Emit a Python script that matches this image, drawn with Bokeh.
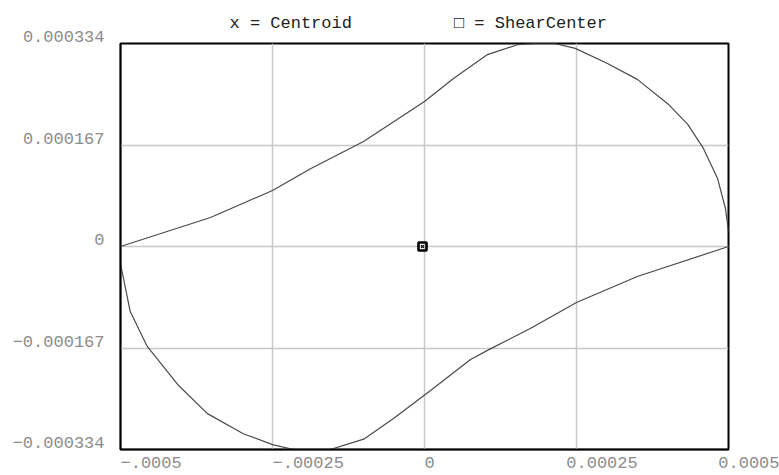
from bokeh.plotting import figure
from bokeh.models import Range1d, FixedTicker, Title
from bokeh.embed import file_html
from bokeh.resources import INLINE

# Section outline traced as two open branches (x, y in model units)
upper_x = [-0.0005, -0.000352, -0.00025, -0.0001875, -0.0001003, 0.0, 0.0000477,
           0.0001036, 0.000153, 0.000181, 0.000214, 0.000248, 0.000301, 0.00035,
           0.0004, 0.000433, 0.000459, 0.000482, 0.000495, 0.0005]
upper_y = [0.0, 0.0000477, 0.0000921, 0.000128, 0.0001727, 0.0002385, 0.0002764,
           0.0003158, 0.000332, 0.000334, 0.000334, 0.000326, 0.000301, 0.000275,
           0.000235, 0.000201, 0.000161, 0.000112, 0.0000625, 0.0000247]

lower_x = [-0.0005, -0.000484, -0.000456, -0.000406, -0.000357, -0.000298, -0.00025,
           -0.000215, -0.000155, -0.0001, -0.000051, 0.00001, 0.0000757, 0.000109,
           0.000174, 0.00025, 0.00035, 0.0005]
lower_y = [-0.000028, -0.000107, -0.0001645, -0.000227, -0.000275, -0.000308, -0.000326,
           -0.000334, -0.000334, -0.000317, -0.000283, -0.000237, -0.000186, -0.000168,
           -0.000135, -0.0000921, -0.0000494, 0.0]

centroid = (-0.0000033, 0.0)
shear_center = (-0.0000033, 0.0)

x_ticks = [-0.0005, -0.00025, 0.0, 0.00025, 0.0005]
x_tick_labels = ["\u2212.0005", "\u2212.00025", "0", "0.00025", "0.0005"]
y_ticks = [0.000334, 0.000167, 0.0, -0.000167, -0.000334]
y_tick_labels = ["0.000334", "0.000167", "0", "\u22120.000167", "\u22120.000334"]

FONT = "Liberation Mono"
LABEL_COLOR = "#8c8c8c"
NBSP = "\u00a0"

p = figure(width=779, height=475, output_backend="svg", toolbar_location=None,
           x_range=Range1d(-0.0005, 0.0005), y_range=Range1d(-0.000334, 0.000334),
           min_border_left=120, min_border_right=51, min_border_top=42,
           min_border_bottom=26)
p.background_fill_color = "white"
p.border_fill_color = "white"
p.outline_line_color = "black"
p.outline_line_width = 2


def style_axis(ax):
    ax.major_tick_line_color = None
    ax.minor_tick_line_color = None
    ax.axis_line_color = "black"
    ax.axis_line_width = 1.5
    ax.major_label_text_font = FONT
    ax.major_label_text_font_size = "17px"
    ax.major_label_text_color = LABEL_COLOR


# x labels start at their tick (one character earlier for positive values);
# monospace padding shifts the centred text accordingly
def pad(label, value):
    n = len(label)
    k = n - 2 if value > 0 else n
    return NBSP * k + label


xax = p.xaxis[0]
xax.ticker = FixedTicker(ticks=x_ticks)
xax.major_label_overrides = {t: pad(s, t) for t, s in zip(x_ticks, x_tick_labels)}
xax.major_label_standoff = -2
style_axis(xax)

# y labels ride just above their grid lines: an empty second line lifts them
yax = p.yaxis[0]
yax.ticker = FixedTicker(ticks=y_ticks)
yax.major_label_overrides = {t: s + "\n" + NBSP for t, s in zip(y_ticks, y_tick_labels)}
yax.major_label_text_line_height = 0.6
yax.major_label_standoff = 10
style_axis(yax)

p.xgrid.ticker = FixedTicker(ticks=x_ticks)
p.ygrid.ticker = FixedTicker(ticks=y_ticks)
p.grid.grid_line_color = "#c8c8c8"
p.grid.grid_line_width = 1.5

p.line(upper_x, upper_y, line_color="#4a4a4a", line_width=1.2)
p.line(lower_x, lower_y, line_color="#4a4a4a", line_width=1.2)

p.scatter([shear_center[0]], [shear_center[1]], marker="square", size=8,
          fill_color=None, line_color="black", line_width=2.6)
p.scatter([centroid[0]], [centroid[1]], marker="x", size=4,
          line_color="black", line_width=1.2)

# key above the frame
key = "x = Centroid" + NBSP * 10 + "\u25a1 = ShearCenter"
p.add_layout(Title(text=key, align="left", offset=109, standoff=22,
                   text_font=FONT, text_font_size="17px", text_font_style="normal",
                   text_color="#222222"), "above")

open("out.html", "w").write(file_html(p, INLINE))
